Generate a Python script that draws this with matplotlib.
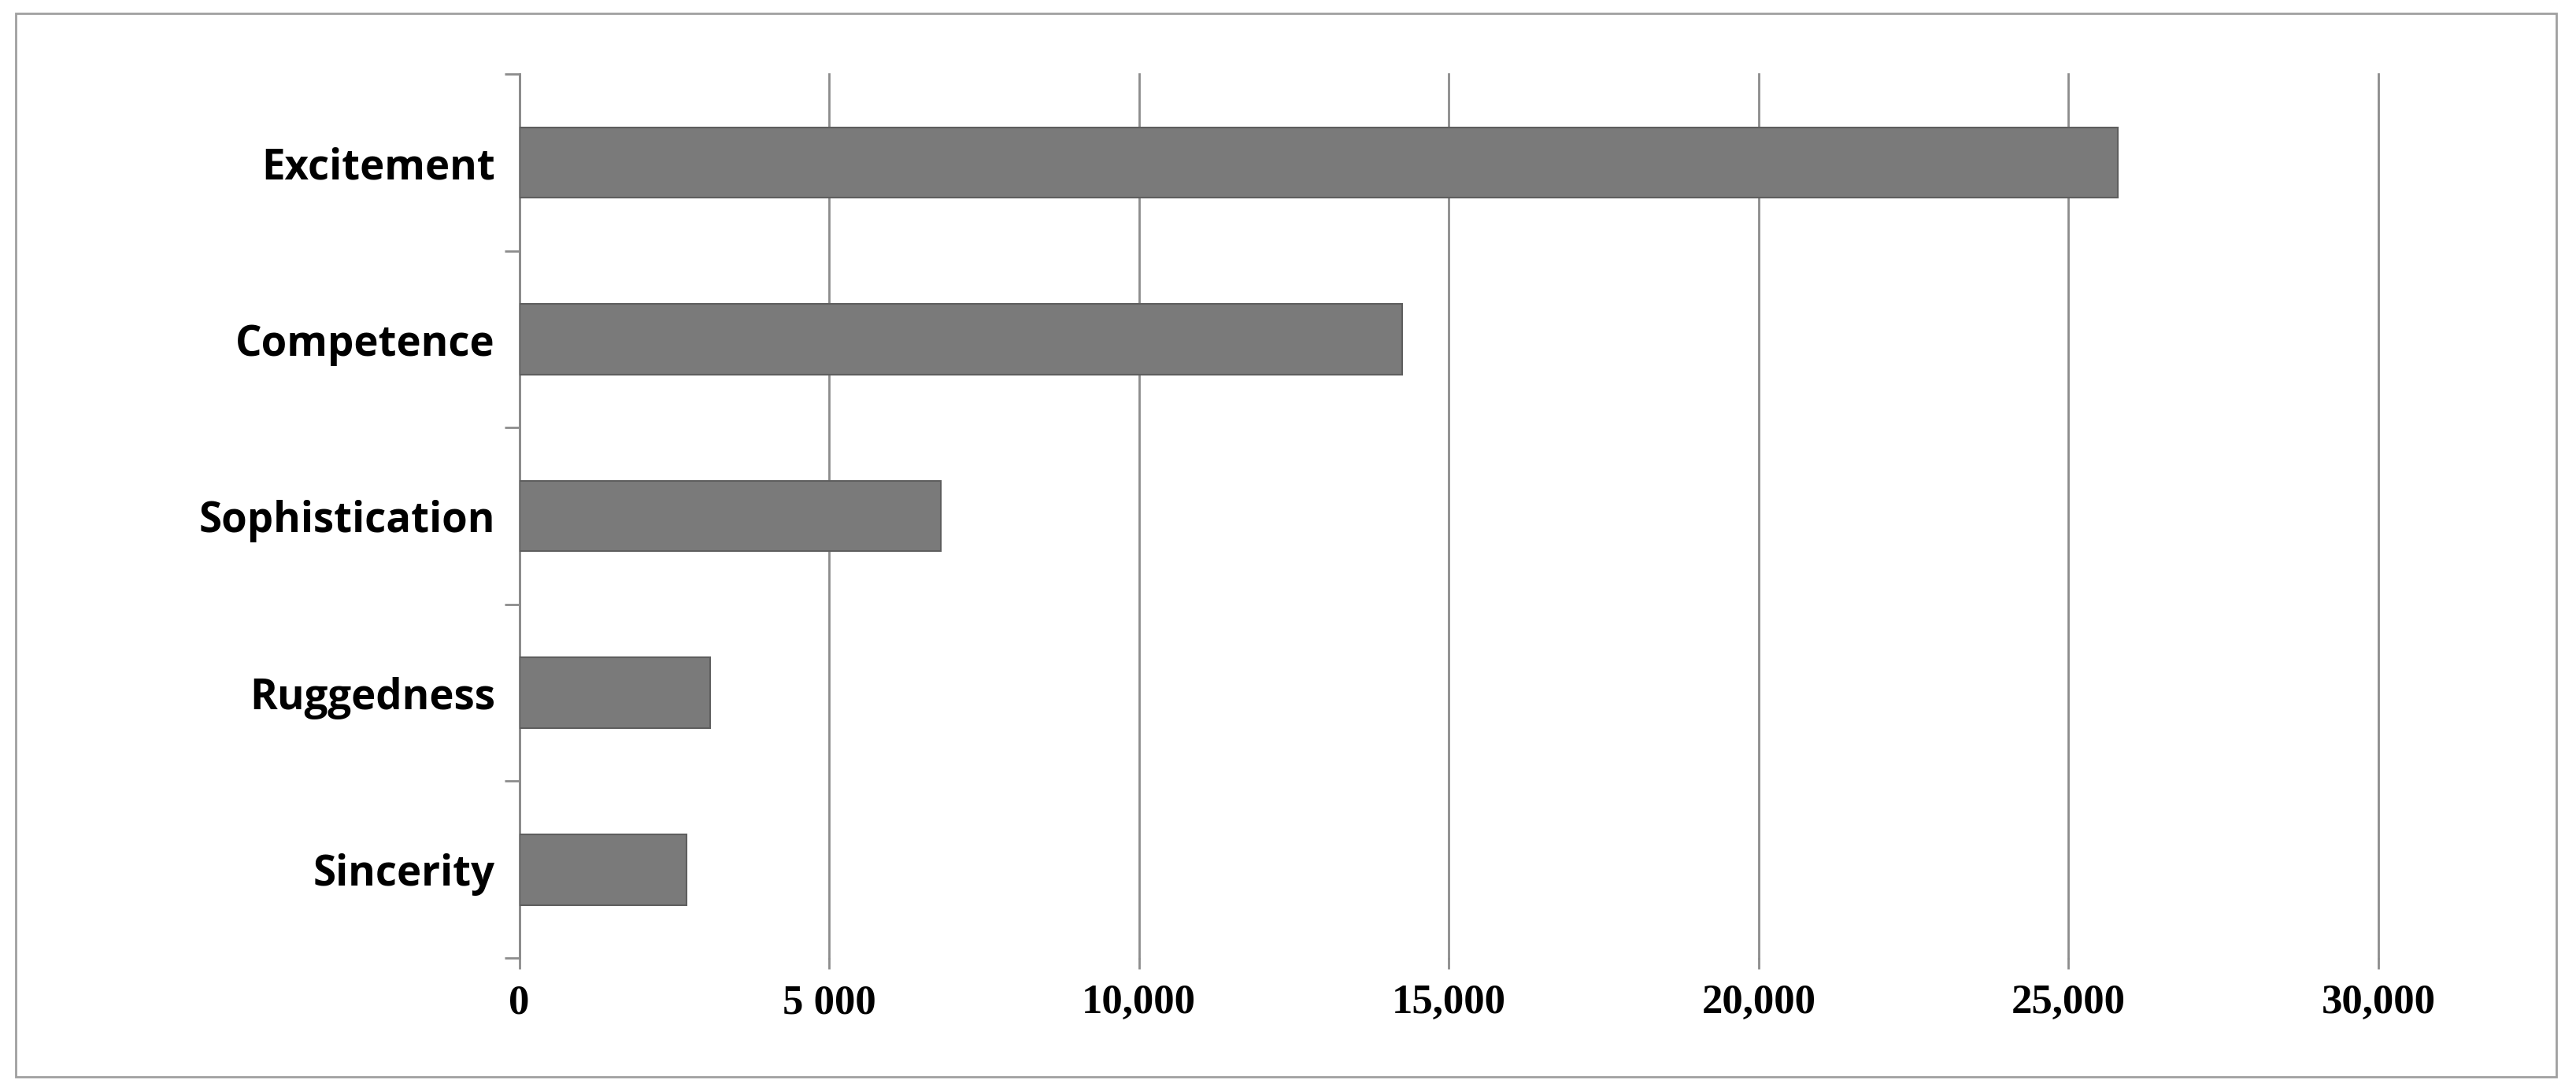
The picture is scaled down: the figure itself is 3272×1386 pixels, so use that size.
import matplotlib
matplotlib.use("Agg")
import matplotlib.pyplot as plt
from matplotlib.patches import Rectangle
import numpy as np

categories = ["Sincerity", "Ruggedness", "Sophistication", "Competence", "Excitement"]
values = [2700, 3080, 6800, 14250, 25800]
xticks = [0, 5000, 10000, 15000, 20000, 25000, 30000]
xticklabels = ["0", "5 000", "10,000", "15,000", "20,000", "25,000", "30,000"]

fig = plt.figure(figsize=(32.73, 13.86), dpi=100)
fig.patches.append(Rectangle((0.006, 0.013), 0.986, 0.975, transform=fig.transFigure,
                             fill=False, edgecolor="#a0a0a0", linewidth=2))
ax = fig.add_axes([0.2015, 0.122, 0.7215, 0.81])
y = np.arange(len(categories))
ax.barh(y, values, height=0.4, color="#7a7a7a", edgecolor="#5e5e5e", linewidth=1.5, zorder=3)
ax.set_xlim(0, 30000)
ax.set_ylim(-0.5, len(categories) - 0.5)
ax.set_xticks(xticks)
ax.set_xticklabels(xticklabels, family="Liberation Serif", fontweight="bold", fontsize=38)
ax.set_yticks(y)
ax.set_yticklabels(categories, family="Open Sans", fontweight="bold", fontsize=38)
ax.set_yticks(np.arange(-0.5, len(categories), 1), minor=True)
ax.tick_params(axis="y", which="major", length=0, pad=22)
ax.tick_params(axis="y", which="minor", length=14, width=2, color="#8c8c8c", direction="out")
ax.tick_params(axis="x", length=10, width=2, color="#8c8c8c", pad=14)
ax.grid(axis="x", color="#8c8c8c", linewidth=2, zorder=0)
for gl in ax.get_xgridlines():
    gl.set_clip_on(False)
for s in ["top", "right", "bottom"]:
    ax.spines[s].set_visible(False)
ax.spines["left"].set_color("#8c8c8c")
ax.spines["left"].set_linewidth(2)
fig.savefig("out.png", dpi=100)
